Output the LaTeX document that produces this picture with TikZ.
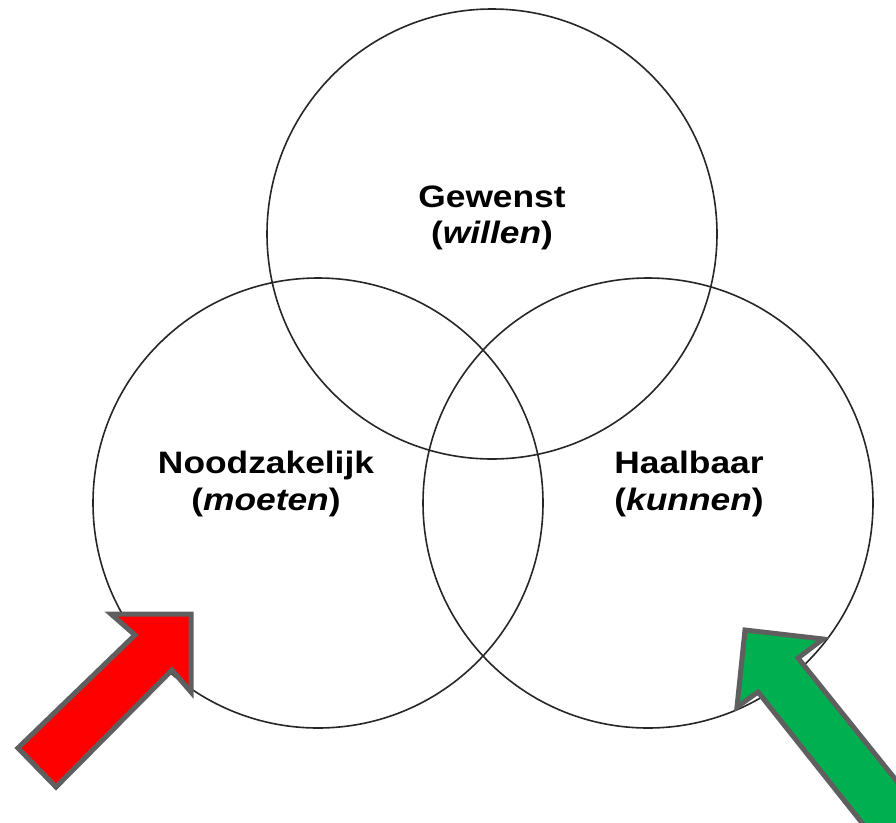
\documentclass[tikz,border=0pt]{standalone}
\usepackage{fontspec}
\setmainfont{Liberation Sans}
\definecolor{arrowred}{HTML}{FF0000}
\definecolor{arrowgreen}{HTML}{00B050}
\definecolor{arrowedge}{HTML}{5F5F5F}
\definecolor{ringline}{HTML}{262626}
\begin{document}
\begin{tikzpicture}[x=1pt,y=-1pt,
  venn/.style={circle, draw=ringline, line width=1.6pt, minimum size=450pt, inner sep=0pt},
  lbl/.style={anchor=base, inner sep=0pt, font=\fontsize{31}{37}\selectfont\bfseries},
  bigarrow/.style={draw=arrowedge, line width=5pt, line join=miter, miter limit=10}]
\useasboundingbox (0,0) rectangle (896,822);
\clip (0,0) rectangle (896,822);
\node[venn] (gew) at (492,234) {};
\node[venn] (nood) at (318,503) {};
\node[venn] (haal) at (648,503) {};
\node[lbl] (gewA) at (492,207) {\scalebox{1.14}[1]{Gewenst}};
\node[lbl] (gewB) at (492,243) {\scalebox{1.14}[1]{(\textit{willen})}};
\node[lbl] (noodA) at (266,473) {\scalebox{1.14}[1]{Noodzakelijk}};
\node[lbl] (noodB) at (266,510) {\scalebox{1.14}[1]{(\textit{moeten})}};
\node[lbl] (haalA) at (689,473) {\scalebox{1.14}[1]{Haalbaar}};
\node[lbl] (haalB) at (689,510) {\scalebox{1.14}[1]{(\textit{kunnen})}};
\draw[bigarrow, fill=arrowred] (191,614) -- (111,614) -- (135,635) -- (18,748) -- (56,787) -- (172,670) -- (191,692) -- cycle;
\draw[bigarrow, fill=arrowgreen] (745,630) -- (823,639) -- (798,658) -- (924,815) -- (882,848) -- (758,692) -- (737,707) -- cycle;
\end{tikzpicture}
\end{document}
